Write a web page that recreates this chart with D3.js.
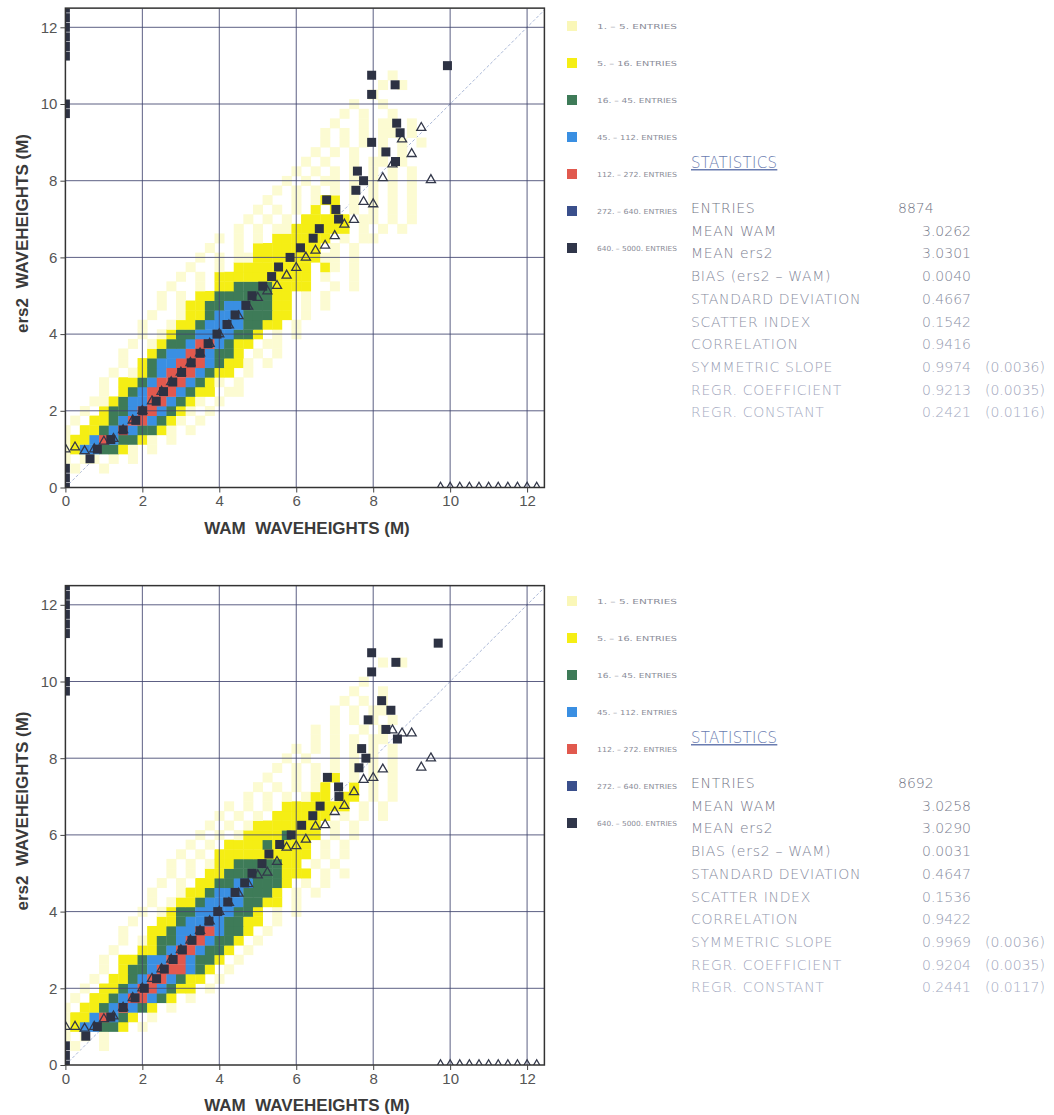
<!DOCTYPE html>
<html><head><meta charset="utf-8">
<script src="https://cdn.jsdelivr.net/npm/d3@7"></script>
<style>body{margin:0;background:#fff}</style>
</head><body>
<svg id="c" width="1054" height="1115"></svg>
<script>
// ---------------- data ----------------
const axisTicks = [0, 2, 4, 6, 8, 10, 12];
const binStep = 0.25;
const classLabels = ["1. \u2013 5. ENTRIES", "5. \u2013 16. ENTRIES", "16. \u2013 45. ENTRIES",
  "45. \u2013 112. ENTRIES", "112. \u2013 272. ENTRIES", "272. \u2013 640. ENTRIES", "640. \u2013 5000. ENTRIES"];
const classColors = ["#fcfbd2", "#f5ee14", "#3e7b58", "#3a8fe2", "#e1594e", "#3a4f8c", "#30364a"];

const statLabels = ["ENTRIES", "MEAN WAM", "MEAN ers2", "BIAS (ers2 \u2013 WAM)", "STANDARD DEVIATION",
  "SCATTER INDEX", "CORRELATION", "SYMMETRIC SLOPE", "REGR. COEFFICIENT", "REGR. CONSTANT"];
const statValuesTop = ["8874", "3.0262", "3.0301", "0.0040", "0.4667", "0.1542", "0.9416", "0.9974", "0.9213", "0.2421"];
const statErrTop = ["", "", "", "", "", "", "", "(0.0036)", "(0.0035)", "(0.0116)"];
const statValuesBottom = ["8692", "3.0258", "3.0290", "0.0031", "0.4647", "0.1536", "0.9422", "0.9969", "0.9204", "0.2441"];
const statErrBottom = ["", "", "", "", "", "", "", "(0.0036)", "(0.0035)", "(0.0117)"];

// mean WAM for each ers2 bin (ers2 = 0, 0.25, ... 12.5); 0 = empty bin
const squaresTop = [0, 0, 0, 0.64, 0.83, 1.18, 1.50, 1.83, 2.01, 2.36, 2.55, 2.79, 3.02, 3.27, 3.50, 3.71,
  3.94, 4.20, 4.41, 4.69, 4.85, 5.13, 5.36, 5.54, 5.84, 6.11, 6.44, 6.60, 7.10, 7.03, 6.79, 7.55, 7.75,
  7.59, 8.58, 8.33, 7.96, 8.70, 8.61, 0, 0, 7.96, 8.57, 7.96, 9.93, 0, 0, 0, 0, 0, 0];
const squaresBottom = [0, 0, 0, 0.53, 0.83, 1.18, 1.50, 1.81, 2.05, 2.37, 2.57, 2.80, 3.04, 3.29, 3.50, 3.73,
  3.96, 4.22, 4.41, 4.66, 4.85, 5.11, 5.29, 5.57, 5.87, 6.14, 6.43, 6.62, 7.11, 7.10, 6.81, 7.63, 7.81,
  7.70, 8.63, 8.33, 7.87, 8.46, 8.22, 0, 0, 7.96, 8.59, 7.96, 9.69, 0, 0, 0, 0, 0, 0];
// mean ers2 for each WAM bin (WAM = 0, 0.25, ... 12.25); 0 = empty bin
const trianglesTop = [1.0, 1.05, 0.95, 1.0, 1.2, 1.27, 1.5, 1.75, 2.0, 2.25, 2.5, 2.75, 3.0, 3.25, 3.5,
  3.75, 4.0, 4.23, 4.47, 4.72, 4.95, 5.12, 5.26, 5.53, 5.73, 6.0, 6.18, 6.31, 6.56, 6.86, 6.98, 7.45, 7.39,
  8.07, 8.43, 9.08, 8.70, 9.38, 8.02, 0, 0, 0, 0, 0, 0, 0, 0, 0, 0, 0];
const trianglesBottom = [1.0, 1.0, 0.95, 1.0, 1.2, 1.27, 1.5, 1.75, 2.0, 2.25, 2.5, 2.75, 3.0, 3.25, 3.5,
  3.75, 4.0, 4.23, 4.47, 4.72, 4.95, 5.02, 5.3, 5.67, 5.71, 5.88, 6.22, 6.26, 6.6, 6.76, 7.12, 7.44, 7.49,
  7.71, 8.73, 8.65, 8.65, 7.76, 8.0, 0, 0, 0, 0, 0, 0, 0, 0, 0, 0, 0];

// density classes per ers2 row: [row index (ers2/0.25), first WAM index, class codes ('.' = empty)]
const gridTop = [
  [2, 1, "1..1"], [3, 0, "1.11.1.1"], [4, 0, "12443321.1"], [5, 0, "1224543321.1"],
  [6, 0, "1.2234543321.1"], [7, 1, "1.2234554321.1"], [8, 2, "1.2334554321.1"],
  [9, 3, "112344554321.1"], [10, 4, "1.2345554322.11"], [11, 4, "1.22345554321.1"],
  [12, 5, "1.12345554322.1"], [13, 6, "1.234455543221.1"], [14, 6, "1..2344554332.1.1"],
  [15, 7, "1.12334554322.11"], [16, 8, "1.12334444332.1.1"], [17, 8, "1..122344443322.1"],
  [18, 9, "1..122344433322.1"], [19, 10, "1.122334433322.1.1"], [20, 10, "1.1.2233333322.1.1"],
  [21, 11, "1..1.2233332222..1.1"], [22, 12, "1.1.2222222222.1..1"], [23, 13, "1..1.22222222.21.1"],
  [24, 14, "1.1.11222222211.1"], [25, 15, "1..1.2222222.1.1"], [26, 16, "1.1.1.222222.1.11"],
  [27, 18, "1.1.11222222.1.1.1"], [28, 19, "1.1.1.22222.11.1.1"], [29, 20, "1.1.1.2.2.1.1.1.1"],
  [30, 21, "1..1.122.1.1.1.1"], [31, 22, "1.1.1.1.1.1.1.1"], [32, 22, ".1.1.11.1.1.1.1"],
  [33, 24, "1.1.1.1.1.1.1"], [34, 24, ".1.1..1.11.1"], [35, 26, "1.1.1..1.1"],
  [36, 26, ".1.1.1.1.1.1"], [37, 27, "1.1.1.11.1"], [38, 28, "1..1.11.1"], [39, 29, "1.1..1"],
  [40, 30, "1..1"], [41, 31, ".1"], [42, 33, "1.1"], [43, 34, "1"]
];
const gridBottom = [
  [2, 1, "1..1"], [3, 0, "1.1.1"], [4, 0, "1244332.1"], [5, 0, "12245432.1"],
  [6, 0, "1.22345432.1"], [7, 1, "1.223455432.1"], [8, 2, "1.2234554322.1"],
  [9, 3, "1.2234554322.1"], [10, 4, "1.2334555432.1"], [11, 4, "1.22344554332.1"],
  [12, 5, "1..2234554332.1"], [13, 6, "1.12334554332.1"], [14, 6, "1..22344554332.1"],
  [15, 7, "1..22344443322.1"], [16, 8, "1.12334444332.1.1"], [17, 9, "1.122344443322.1"],
  [18, 9, "1..12234443332.1.1"], [19, 10, "1.1.2233443332.1.1"], [20, 11, "1.1.22333333222.1.1"],
  [21, 11, "1.1.1223333322.1.1"], [22, 12, "1.1.2222222222.1.1"], [23, 13, "1.1.222232222.1.1"],
  [24, 14, "1.1.122223222.1.1"], [25, 15, "1.1.12222222.1.1"], [26, 16, "1.1.1.222222.1.1.1"],
  [27, 17, "1.1.1.2222222.1.1"], [28, 19, "1.1.1.122.22.1.1"], [29, 20, "1.1.1.12..2.1.1"],
  [30, 21, "1..1.1.2.1.1.1"], [31, 22, "1.1.1.1.1.1.1"], [32, 23, "1.1..1.1.1.1"],
  [33, 24, "1.1.1.1.1.1"], [34, 25, ".1.1.1.11"], [35, 26, "1.1..1.1"], [36, 27, ".1.1.1.1"],
  [37, 28, "1.1.11"], [38, 29, "1.1.1"], [39, 30, "1..1"], [40, 31, "1"], [42, 33, "1.1"]
];

// ---------------- drawing ----------------
const svg = d3.select("#c");
const tickFont = "'Liberation Sans', Arial, sans-serif";
const thinFont = "'DejaVu Sans', 'Liberation Sans', sans-serif";

function parseGrid(rows) {
  const cells = [];
  rows.forEach(([j, s, str]) => {
    for (let k = 0; k < str.length; k++) {
      const c = str[k];
      if (c !== ".") cells.push({ wam: (s + k) * binStep, ers: j * binStep, cls: +c });
    }
  });
  return cells;
}

function drawPanel(id, yBase, grid, squares, triangles, statVals, statErr, offset) {
  const x = d3.scaleLinear().domain([0, 12.45]).range([65.4, 544.4]);
  const y = d3.scaleLinear().domain([0, 12.5]).range([yBase, yBase - 12.5 * 38.35]);
  const g = svg.append("g");
  const [x0, x1] = x.range(), [y0, y1] = y.range();

  g.append("clipPath").attr("id", "clip" + id).append("rect")
    .attr("x", x0).attr("y", y1).attr("width", x1 - x0).attr("height", y0 - y1);

  const plot = g.append("g").attr("clip-path", `url(#clip${id})`);

  // diagonal
  plot.append("line").attr("x1", x(0)).attr("y1", y(0)).attr("x2", x(12.5)).attr("y2", y(12.5))
    .attr("stroke", "#a9b7d6").attr("stroke-width", 1).attr("stroke-dasharray", "3,2");

  // density cells
  const cells = parseGrid(grid);
  plot.selectAll("rect.cell").data(cells).join("rect").attr("class", "cell")
    .attr("x", d => x(d.wam - binStep / 2))
    .attr("y", d => y(d.ers + binStep / 2))
    .attr("width", x(binStep) - x(0) + 0.4)
    .attr("height", y(0) - y(binStep) + 0.4)
    .attr("fill", d => classColors[d.cls - 1]);

  // grid lines
  plot.selectAll("line.gx").data(axisTicks.filter(t => t > 0)).join("line").attr("class", "gx")
    .attr("x1", d => x(d)).attr("x2", d => x(d)).attr("y1", y0).attr("y2", y1)
    .attr("stroke", "#41456f").attr("stroke-width", 1).attr("opacity", 0.85);
  plot.selectAll("line.gy").data(axisTicks.filter(t => t > 0)).join("line").attr("class", "gy")
    .attr("y1", d => y(d)).attr("y2", d => y(d)).attr("x1", x0).attr("x2", x1)
    .attr("stroke", "#41456f").attr("stroke-width", 1).attr("opacity", 0.85);

  // triangles: mean ers2 per WAM bin
  const tri = triangles.map((v, k) => ({ wam: k * binStep, ers: v }));
  plot.selectAll("path.tri").data(tri).join("path").attr("class", "tri")
    .attr("transform", d => `translate(${x(d.wam)},${y(d.ers)})`)
    .attr("d", d3.symbol(d3.symbolTriangle, 36))
    .attr("fill", "none").attr("stroke", "#33384a").attr("stroke-width", 1.3);

  // squares: mean WAM per ers2 bin
  const sq = squares.map((v, k) => ({ wam: v, ers: k * binStep }));
  plot.selectAll("rect.sq").data(sq).join("rect").attr("class", "sq")
    .attr("x", d => x(d.wam) - 4.5).attr("y", d => y(d.ers) - 4.5)
    .attr("width", 9).attr("height", 9).attr("fill", "#2d3243");

  // frame
  g.append("rect").attr("x", x0).attr("y", y1).attr("width", x1 - x0).attr("height", y0 - y1)
    .attr("fill", "none").attr("stroke", "#333").attr("stroke-width", 1.5);

  // axes
  const ax = g.append("g").attr("transform", `translate(0,${y0})`)
    .call(d3.axisBottom(x).tickValues(axisTicks).tickSize(5).tickPadding(3).tickFormat(d3.format("d")));
  const ay = g.append("g").attr("transform", `translate(${x0},0)`)
    .call(d3.axisLeft(y).tickValues(axisTicks).tickSize(5).tickPadding(3).tickFormat(d3.format("d")));
  [ax, ay].forEach(a => {
    a.select(".domain").remove();
    a.selectAll("line").attr("stroke", "#444");
    a.selectAll("text").attr("font-family", tickFont).attr("font-size", 15).attr("fill", "#555");
  });

  // titles
  g.append("text").attr("x", 307).attr("y", yBase + 46).attr("text-anchor", "middle")
    .attr("font-family", tickFont).attr("font-weight", "bold").attr("font-size", 17)
    .attr("fill", "#3a3a3a").attr("xml:space", "preserve").text("WAM  WAVEHEIGHTS (M)");
  g.append("text").attr("transform", `translate(28,${yBase - 254}) rotate(-90)`).attr("text-anchor", "middle")
    .attr("font-family", tickFont).attr("font-weight", "bold").attr("font-size", 17)
    .attr("fill", "#3a3a3a").attr("xml:space", "preserve").text("ers2  WAVEHEIGHTS (M)");

  // legend
  const lg = g.append("g").attr("transform", `translate(0,${offset})`);
  classLabels.forEach((lab, i) => {
    const cy = 26 + i * 37;
    lg.append("rect").attr("x", 567).attr("y", cy - 5).attr("width", 10).attr("height", 10)
      .attr("fill", i === 0 ? "#faf7b8" : classColors[i]);
    lg.append("text").attr("x", 597).attr("y", cy + 2.5).attr("font-family", thinFont)
      .attr("font-size", 7).attr("fill", "#8a8c98").attr("textLength", 80)
      .attr("lengthAdjust", "spacingAndGlyphs").text(lab);
  });

  // statistics
  const st = g.append("g").attr("transform", `translate(0,${offset})`);
  st.append("text").attr("x", 691).attr("y", 168).attr("font-family", thinFont).attr("font-weight", 200)
    .attr("font-size", 15).attr("fill", "#6a7cb0").attr("text-decoration", "underline")
    .attr("letter-spacing", 0.3).text("STATISTICS");
  const rowColor = d3.scaleLinear().domain([0, 9]).range(["#6f7282", "#a4aac2"]);
  statLabels.forEach((lab, i) => {
    const yy = 213 + i * 22.7;
    st.append("text").attr("x", 691).attr("y", yy).attr("font-family", thinFont).attr("font-weight", 200)
      .attr("font-size", 14).attr("fill", rowColor(i)).attr("letter-spacing", 0.7)
      .attr("xml:space", "preserve").text(lab);
    st.append("text").attr("x", i === 0 ? 898 : 922).attr("y", yy).attr("font-family", thinFont)
      .attr("font-weight", 200).attr("font-size", 14).attr("fill", rowColor(i)).text(statVals[i]);
    if (statErr[i]) st.append("text").attr("x", 985).attr("y", yy).attr("font-family", thinFont)
      .attr("font-weight", 200).attr("font-size", 14).attr("fill", rowColor(i)).text(statErr[i]);
  });
}

drawPanel("T", 487.5, gridTop, squaresTop, trianglesTop, statValuesTop, statErrTop, 0);
drawPanel("B", 1065, gridBottom, squaresBottom, trianglesBottom, statValuesBottom, statErrBottom, 575);
</script>
</body></html>
